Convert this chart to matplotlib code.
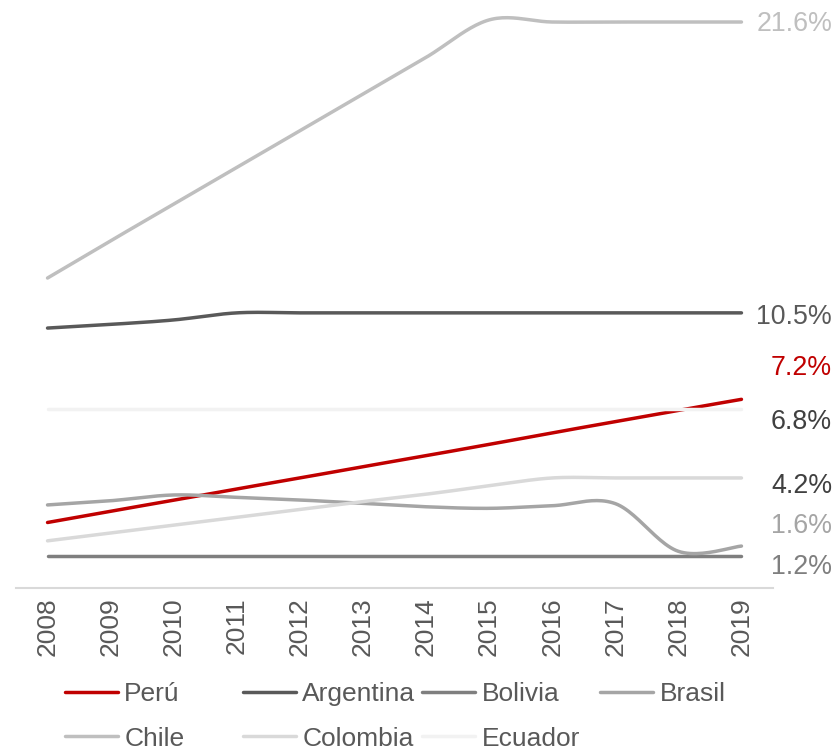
import numpy as np
import matplotlib
matplotlib.use("Agg")
from matplotlib import pyplot as plt
from matplotlib.transforms import blended_transform_factory

plt.rcParams['font.family'] = ['Liberation Sans', 'DejaVu Sans']

years = list(range(2008, 2020))

peru = [2.5, 2.93, 3.35, 3.78, 4.2, 4.63, 5.05, 5.48, 5.92, 6.35, 6.78, 7.2]
argentina = [9.92, 10.06, 10.23, 10.5, 10.5, 10.5, 10.5, 10.5, 10.5, 10.5, 10.5, 10.5]
bolivia = [1.22] * 12
brasil = [3.17, 3.33, 3.55, 3.46, 3.36, 3.23, 3.1, 3.04, 3.14, 3.22, 1.4, 1.6]
chile = [11.83, 13.25, 14.65, 16.05, 17.45, 18.85, 20.25, 21.68, 21.6, 21.6, 21.6, 21.6]
colombia = [1.8, 2.1, 2.4, 2.7, 3.0, 3.3, 3.58, 3.9, 4.2, 4.2, 4.2, 4.2]
ecuador = [6.83] * 12

series = ["Perú", "Argentina", "Bolivia", "Brasil", "Chile", "Colombia", "Ecuador"]
values = [peru, argentina, bolivia, brasil, chile, colombia, ecuador]
colors = ["#C00000", "#595959", "#7F7F7F", "#A5A5A5", "#BFBFBF", "#D9D9D9", "#F2F2F2"]

# etiquetas al final de cada serie (texto, posicion y, color)
end_labels = ["21.6%", "10.5%", "7.2%", "6.8%", "4.2%", "1.6%", "1.2%"]
end_label_y = [21.52, 10.34, 8.39, 6.35, 3.91, 2.38, 0.82]
end_label_colors = ["#BFBFBF", "#595959", "#C00000", "#404040", "#404040", "#A5A5A5", "#7F7F7F"]


def smooth(x, y, n=24):
    # curva suavizada tipo Excel (Bezier / Catmull-Rom)
    x = np.asarray(x, float)
    y = np.asarray(y, float)
    px, py = [], []
    for i in range(len(x) - 1):
        x0, y0 = (x[i - 1], y[i - 1]) if i > 0 else (x[i], y[i])
        x3, y3 = (x[i + 2], y[i + 2]) if i + 2 < len(x) else (x[i + 1], y[i + 1])
        c1x = x[i] + (x[i + 1] - x0) / 6
        c1y = y[i] + (y[i + 1] - y0) / 6
        c2x = x[i + 1] - (x3 - x[i]) / 6
        c2y = y[i + 1] - (y3 - y[i]) / 6
        t = np.linspace(0, 1, n, endpoint=(i == len(x) - 2))
        b0, b1, b2, b3 = (1 - t) ** 3, 3 * t * (1 - t) ** 2, 3 * t ** 2 * (1 - t), t ** 3
        px.extend(b0 * x[i] + b1 * c1x + b2 * c2x + b3 * x[i + 1])
        py.extend(b0 * y[i] + b1 * c1y + b2 * c2y + b3 * y[i + 1])
    return px, py


fig = plt.figure(figsize=(8.35, 7.51), dpi=100)
ax = fig.add_axes([16 / 835, 163 / 751, 757 / 835, 588 / 751])

xs = np.arange(len(years))
lines = []
for i, (name, vals, c) in enumerate(zip(series, values, colors)):
    sx, sy = smooth(xs, vals)
    ln, = ax.plot(sx, sy, color=c, lw=2.5, solid_capstyle='round', label=name, zorder=2 + i)
    lines.append(ln)

ax.set_xlim(-0.5, 11.5)
ax.set_ylim(0, 22.44)
ax.set_xticks(xs)
ax.set_xticklabels(years, rotation=90, fontsize=19, color="#595959")
ax.tick_params(axis='x', length=0, pad=7)
ax.set_yticks([])
for s in ["left", "right", "top"]:
    ax.spines[s].set_visible(False)
ax.spines["bottom"].set_color("#D9D9D9")
ax.spines["bottom"].set_linewidth(1.5)

tr = blended_transform_factory(fig.transFigure, ax.transData)
for txt, yy, c in zip(end_labels, end_label_y, end_label_colors):
    ax.text(832 / 835, yy, txt, transform=tr, ha='right', va='center',
            fontsize=19.3, color=c, clip_on=False)

# leyenda en columnas separadas, como en el original
columns = [[0, 4], [1, 5], [2, 6], [3]]
col_x = [65, 243, 422, 600]
for idx, cx in zip(columns, col_x):
    leg = fig.legend([lines[k] for k in idx], [series[k] for k in idx],
                     loc='upper left', bbox_to_anchor=(cx / 835, 1 - 682 / 751),
                     frameon=False, fontsize=19, handlelength=2.0, handletextpad=0.25,
                     labelspacing=0.78, borderpad=0, borderaxespad=0, labelcolor="#595959")

fig.savefig("out.png", dpi=100)
